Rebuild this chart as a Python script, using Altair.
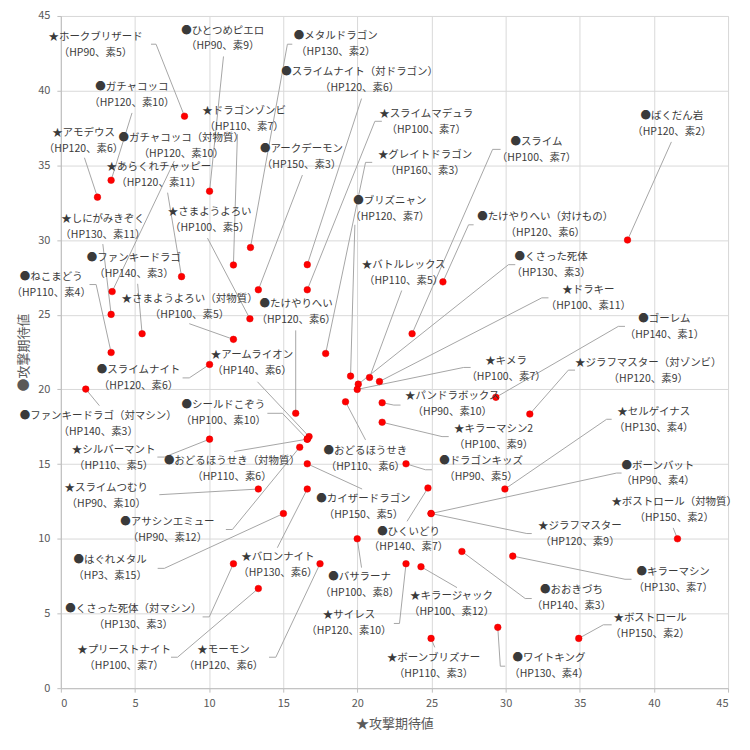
import altair as alt
import pandas as pd

names = ["ホークブリザード", "ひとつめピエロ", "メタルドラゴン", "スライムナイト（対ドラゴン）", "ガチャコッコ",
         "ドラゴンゾンビ", "スライムマデュラ", "アモデウス", "ガチャコッコ（対物質）", "アークデーモン",
         "グレイトドラゴン", "スライム", "ばくだん岩", "あらくれチャッピー", "ブリズニャン",
         "たけやりへい（対けもの）", "しにがみきぞく", "さまようよろい", "ファンキードラゴ", "ねこまどう",
         "くさった死体", "バトルレックス", "ドラキー", "さまようよろい（対物質）", "たけやりへい",
         "ゴーレム", "アームライオン", "スライムナイト", "キメラ", "ジラフマスター（対ゾンビ）",
         "ファンキードラゴ（対マシン）", "シールドこぞう", "パンドラボックス", "セルゲイナス", "キラーマシン2",
         "シルバーマント", "おどるほうせき", "おどるほうせき（対物質）", "ドラゴンキッズ", "ボーンバット",
         "スライムつむり", "ボストロール（対物質）", "カイザードラゴン", "アサシンエミュー", "ジラフマスター",
         "ひくいどり", "はぐれメタル", "バロンナイト", "バサラーナ", "キラーマシン",
         "おおきづち", "キラージャック", "サイレス", "くさった死体（対マシン）", "ボストロール",
         "プリーストナイト", "モーモン", "ボーンブリズナー", "ワイトキング"]
marks = ["S", "C", "C", "C", "C", "S", "S", "S", "C", "C",
         "S", "C", "C", "S", "C", "C", "S", "S", "C", "C",
         "C", "S", "S", "S", "C", "C", "S", "C", "S", "S",
         "C", "C", "S", "S", "S", "S", "C", "C", "C", "C",
         "S", "S", "C", "C", "S", "C", "C", "S", "C", "C",
         "C", "S", "S", "C", "S", "S", "S", "S", "C"]
hp = [90, 90, 130, 120, 120, 110, 100, 120, 120, 150,
      160, 100, 120, 120, 120, 120, 130, 100, 140, 110,
      130, 110, 100, 100, 120, 140, 140, 120, 100, 120,
      140, 100, 90, 130, 100, 110, 110, 110, 90, 90,
      90, 150, 150, 90, 120, 140, 3, 130, 100, 130,
      140, 100, 120, 130, 150, 100, 120, 110, 130]
spd = [5, 9, 2, 6, 10, 7, 7, 6, 10, 3,
       3, 7, 2, 11, 7, 6, 11, 5, 3, 4,
       3, 5, 11, 5, 6, 1, 6, 6, 7, 9,
       3, 10, 10, 4, 9, 5, 6, 6, 5, 4,
       10, 2, 5, 12, 9, 7, 15, 6, 8, 7,
       3, 12, 10, 3, 2, 7, 6, 3, 4]
# ★攻撃期待値 (x) and ●攻撃期待値 (y)
atk_star = [8.34, 10.03, 12.79, 16.62, 3.39, 11.64, 16.62, 2.47, 3.46, 13.32,
            17.86, 23.69, 38.22, 8.14, 19.54, 25.77, 3.39, 12.75, 5.48, 3.39,
            20.06, 20.82, 21.49, 11.64, 15.84, 29.34, 16.74, 10.03, 19.99, 31.63,
            1.68, 16.62, 21.67, 29.95, 21.67, 10.03, 19.2, 16.62, 23.28, 24.97,
            13.32, 41.59, 16.62, 16.11, 24.97, 24.76, 15.01, 16.62, 19.99, 30.48,
            27.05, 24.29, 23.28, 11.64, 34.93, 13.32, 17.48, 24.97, 29.47]
atk_circle = [38.29, 33.27, 29.5, 28.35, 34.0, 28.33, 26.67, 32.87, 26.55, 26.67,
              22.4, 23.73, 30.0, 27.55, 20.89, 27.2, 25.02, 24.73, 23.73, 22.47,
              20.35, 20.8, 20.53, 23.35, 18.4, 19.47, 16.84, 21.67, 20.0, 18.35,
              20.02, 16.67, 19.11, 13.33, 17.8, 16.67, 19.17, 16.67, 15.02, 11.69,
              13.33, 10.0, 15.02, 16.13, 11.69, 13.4, 11.69, 13.33, 10.0, 8.84,
              9.15, 8.13, 8.33, 8.33, 3.33, 6.67, 8.33, 3.33, 4.07]

# label placement (data units): label block centre, leader start and elbow
label_x = [2.34, 10.92, 18.54, 20.15, 4.79, 12.36, 24.64, 1.53, 8.12, 16.23,
           24.56, 32.08, 41.21, 6.61, 22.19, 32.67, 2.84, 10.04, 4.93, -0.65,
           33.07, 23.12, 35.58, 8.68, 15.87, 40.71, 12.89, 5.24, 30.03, 39.62,
           2.52, 10.96, 26.4, 39.99, 29.19, 3.56, 20.54, 11.54, 28.34, 40.27,
           3.06, 41.37, 20.41, 7.19, 35.01, 23.45, 3.32, 14.64, 20.15, 41.3,
           34.44, 26.35, 19.43, 4.89, 39.74, 4.26, 10.97, 25.14, 32.92]
label_y = [43.04, 43.49, 43.13, 40.69, 39.73, 38.13, 37.87, 36.62, 36.27, 35.55,
           35.15, 36.04, 37.77, 34.37, 32.07, 31.02, 30.87, 31.33, 28.27, 26.97,
           28.35, 27.8, 26.09, 25.53, 25.15, 24.17, 21.75, 20.75, 21.37, 21.24,
           17.71, 18.42, 19.02, 17.93, 16.8, 15.42, 15.37, 14.64, 14.64, 14.37,
           12.87, 11.91, 12.13, 10.6, 10.31, 9.95, 8.02, 8.24, 6.89, 7.27,
           6.02, 5.64, 4.35, 4.75, 4.15, 2.04, 2.04, 1.49, 1.47]
lead_x = [6.08, 10.97, 15.61, 20.28, 4.80, 11.91, 21.65, 1.59, 7.65, 16.29,
          21.0, 29.66, 41.18, 7.20, 19.83, 27.84, 2.83, 9.89, 5.18, 1.93,
          30.65, 22.99, 32.89, 8.66, 15.84, 38.05, 13.26, 8.21, 27.64, 34.68,
          2.60, 13.93, 22.91, 37.15, 26.16, 6.51, 20.55, 11.69, 25.03, 37.82,
          6.64, 41.3, 20.32, 11.13, 31.76, 23.35, 6.53, 14.6, 20.28, 38.49,
          31.76, 26.72, 22.46, 9.56, 37.15, 7.43, 14.04, 25.22, 29.97]
lead_y = [43.11, 42.29, 43.11, 39.47, 38.51, 37.09, 37.95, 35.51, 35.29, 34.35,
          35.2, 36.07, 36.57, 33.17, 31.02, 31.02, 29.73, 30.13, 27.07, 27.02,
          28.35, 26.62, 26.13, 24.4, 23.95, 24.22, 20.51, 20.77, 21.47, 21.29,
          18.91, 18.4, 18.95, 18.0, 16.84, 15.47, 16.62, 15.84, 14.62, 14.4,
          12.95, 10.73, 13.33, 10.62, 10.35, 11.17, 8.02, 9.4, 8.07, 7.29,
          6.0, 6.73, 4.33, 4.77, 4.24, 2.07, 2.07, 2.73, 1.47]
elbow_x = [6.42, 10.97, 15.28, 20.28, 4.80, 11.91, 21.18, 1.59, 7.65, 16.29,
           20.55, 29.12, 41.18, 7.20, 19.83, 27.5, 2.83, 9.89, 5.18, 2.38,
           30.19, 22.99, 32.44, 8.66, 15.84, 37.6, 13.26, 8.66, 27.17, 34.23,
           2.60, 14.94, 22.46, 36.81, 25.71, 6.98, 20.55, 11.69, 24.59, 37.48,
           6.64, 41.3, 20.32, 11.57, 31.43, 23.35, 6.98, 14.6, 20.28, 38.05,
           31.32, 26.72, 22.84, 10.01, 36.59, 7.87, 14.5, 25.22, 29.64]

FONT = "Noto Sans CJK JP"

pts = pd.DataFrame({"name": names, "x": atk_star, "y": atk_circle})
labels = pd.DataFrame({
    "name": names,
    "x": label_x,
    "y": label_y,
    "label": [("★" if m == "S" else "●") + n + "\n（HP" + str(h) + "、素" + str(s) + "）"
              for n, m, h, s in zip(names, marks, hp, spd)],
})
lead_rows = []
for i, n in enumerate(names):
    lead_rows.append({"name": n, "o": 0, "x": lead_x[i], "y": lead_y[i]})
    lead_rows.append({"name": n, "o": 1, "x": elbow_x[i], "y": lead_y[i]})
    lead_rows.append({"name": n, "o": 2, "x": atk_star[i], "y": atk_circle[i]})
leads = pd.DataFrame(lead_rows)

W, H = 669, 674
ticks = list(range(0, 46, 5))
xenc = alt.X("x:Q", scale=alt.Scale(domain=[0, 45], nice=False),
             axis=alt.Axis(title="★攻撃期待値", values=ticks, labelPadding=5, titlePadding=9))
yenc = alt.Y("y:Q", scale=alt.Scale(domain=[0, 45], nice=False),
             axis=alt.Axis(title="●攻撃期待値", values=ticks, labelPadding=7, titlePadding=7,
                           titleAnchor="middle", titleY=H / 2, titleAngle=270,
                           titleAlign="center", titleBaseline="bottom"))

lines = alt.Chart(leads).mark_line(color="#a6a6a6", strokeWidth=1).encode(
    x=xenc, y=yenc, detail="name:N", order="o:Q")
dots = alt.Chart(pts).mark_circle(size=44, color="#ff0000", opacity=1,
                                   stroke="#e00000", strokeWidth=0.5).encode(x=xenc, y=yenc)
texts = alt.Chart(labels).mark_text(font=FONT, fontSize=10.5, color="#3a3a3a", align="center",
                                    baseline="middle", lineBreak="\n", lineHeight=16, dy=-8).encode(
    x=xenc, y=yenc, text="label:N")

chart = alt.layer(lines, dots, texts).properties(
    width=W, height=H,
    padding={"left": 53, "top": 7, "right": 14, "bottom": 52},
    autosize=alt.AutoSizeParams(type="none"),
).configure_axis(
    grid=True, gridColor="#d9d9d9", gridWidth=1,
    domainColor="#bfbfbf", tickColor="#bfbfbf", tickSize=4,
    labelColor="#595959", labelFontSize=11, labelFont=FONT,
    titleColor="#595959", titleFontSize=13, titleFont=FONT, titleFontWeight="normal",
).configure_view(stroke="#d9d9d9")

chart.save("out.html", embed_options={"renderer": "svg", "actions": False})
